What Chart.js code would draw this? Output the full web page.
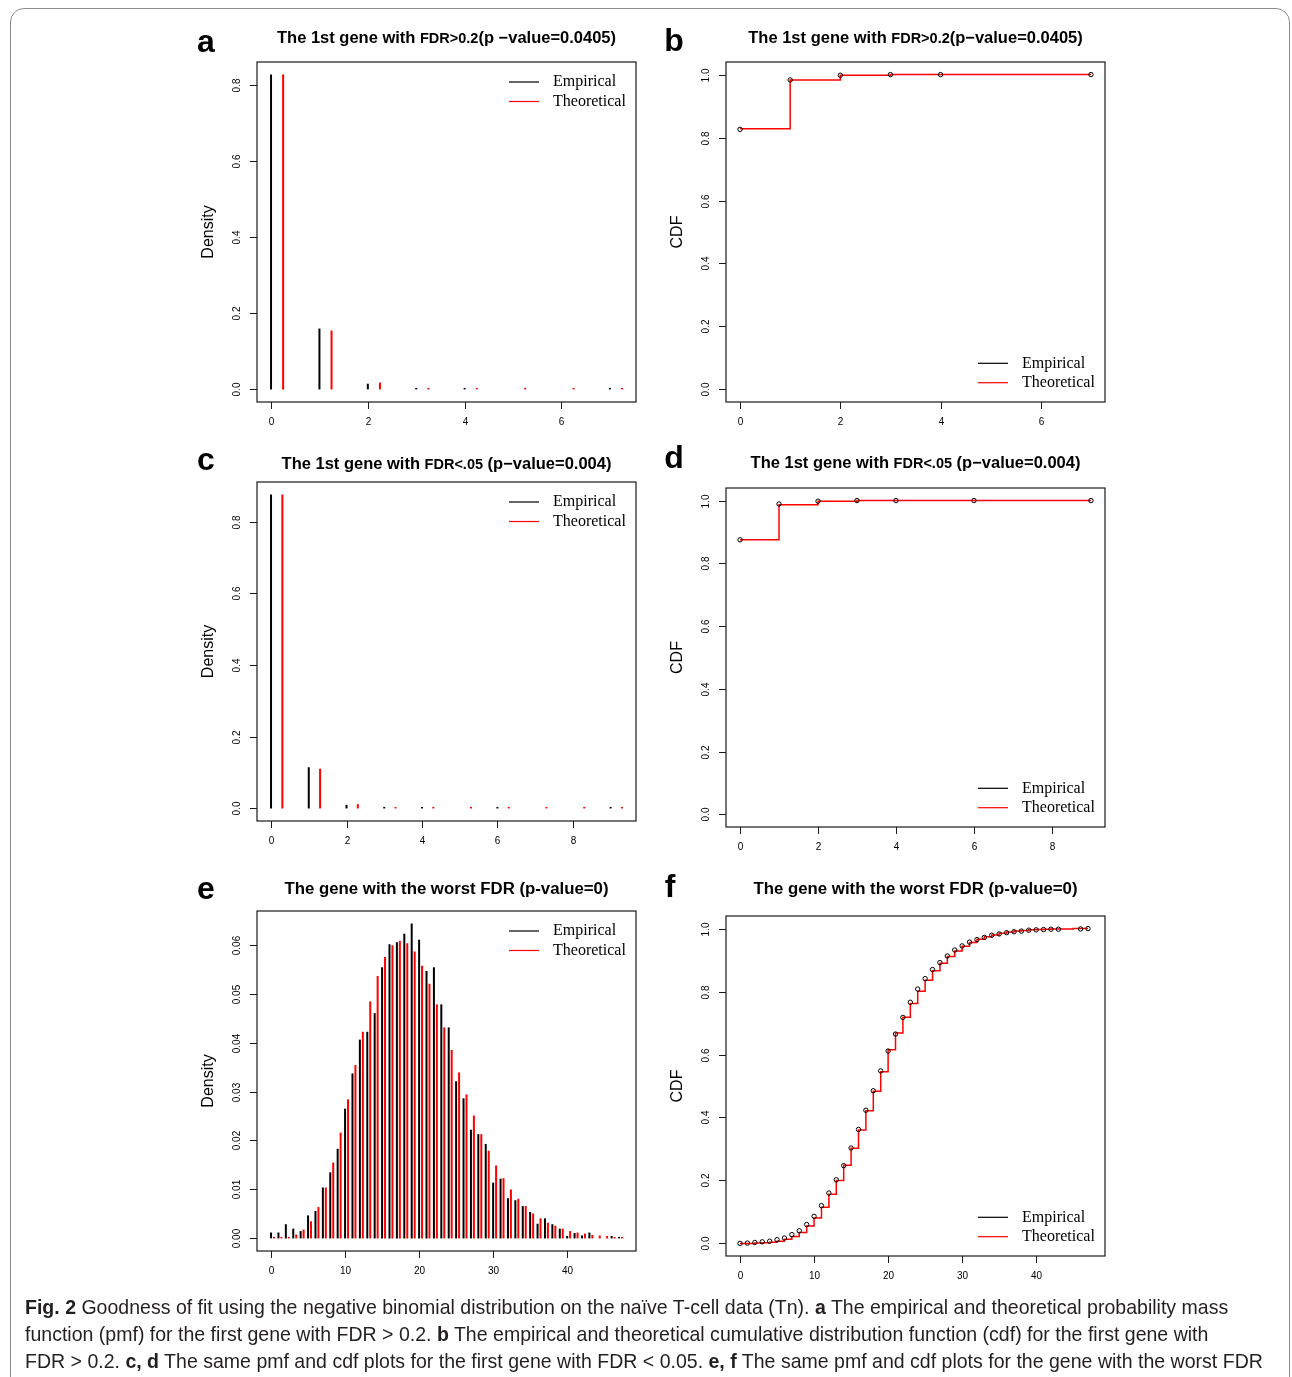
<!DOCTYPE html>
<html>
<head>
<meta charset="utf-8">
<script src="https://cdn.jsdelivr.net/npm/chart.js@4.4.1/dist/chart.umd.min.js"></script>
<style>
  body { margin: 0; background: #fff; width: 1292px; height: 1377px; overflow: hidden; position: relative; font-family: "Liberation Sans", Arial, sans-serif; }
  .frame { position: absolute; left: 10px; top: 8px; width: 1278px; height: 1420px; border: 1px solid #8c8c8c; border-radius: 14px; }
  canvas { position: absolute; }
  .letter { position: absolute; font: bold 32px "Liberation Sans", Arial, sans-serif; transform: translate(-50%, -50%); line-height: 1; }
  .caption { position: absolute; left: 25px; top: 1293px; font-family: "Liberation Sans Narrow", "Liberation Sans", sans-serif; font-size: 21px; line-height: 27px; color: #231f20; white-space: nowrap; }
  .caption div { transform: scaleX(0.93); transform-origin: left center; }
  .caption b { font-weight: bold; }
</style>
</head>
<body>
<div class="frame"></div>

<canvas id="pa" width="460" height="423" style="left:190px;top:17px"></canvas>
<canvas id="pb" width="460" height="423" style="left:659px;top:17px"></canvas>
<canvas id="pc" width="460" height="422" style="left:190px;top:437px"></canvas>
<canvas id="pd" width="460" height="422" style="left:659px;top:443px"></canvas>
<canvas id="pe" width="460" height="423" style="left:190px;top:866px"></canvas>
<canvas id="pf" width="460" height="423" style="left:659px;top:871px"></canvas>

<div class="letter" style="left:206px;top:41px">a</div>
<div class="letter" style="left:674px;top:40px">b</div>
<div class="letter" style="left:206px;top:459px">c</div>
<div class="letter" style="left:674px;top:457px">d</div>
<div class="letter" style="left:206px;top:888px">e</div>
<div class="letter" style="left:670px;top:886px">f</div>

<div class="caption">
  <div><b>Fig. 2</b> Goodness of fit using the negative binomial distribution on the naïve T-cell data (Tn). <b>a</b> The empirical and theoretical probability mass</div>
  <div>function (pmf) for the first gene with FDR &gt; 0.2. <b>b</b> The empirical and theoretical cumulative distribution function (cdf) for the first gene with</div>
  <div>FDR &gt; 0.2. <b>c, d</b> The same pmf and cdf plots for the first gene with FDR &lt; 0.05. <b>e, f</b> The same pmf and cdf plots for the gene with the worst FDR</div>
</div>

<script>
// ---- panel a / b: first gene with FDR > 0.2 ----
const aEmpCounts = [0, 1, 2, 3, 4, 7];
const aEmpirical = [0.828, 0.160, 0.015, 0.002, 0.001, 0.001];
const aTheoCounts = [0, 1, 2, 3, 4, 5, 6, 7];
const aTheoretical = [0.828, 0.155, 0.018, 0.003, 0.001, 0.001, 0.001, 0.001];
const bEmpCdf = [0.826, 0.983, 0.998, 1.0, 1.0, 1.0];
const bTheoCdf = [0.828, 0.983, 0.998, 1.0, 1.0, 1.0, 1.0, 1.0];

// ---- panel c / d: first gene with FDR < .05 ----
const cEmpCounts = [0, 1, 2, 3, 4, 6, 9];
const cEmpirical = [0.876, 0.115, 0.010, 0.001, 0.001, 0.001, 0.001];
const cTheoCounts = [0, 1, 2, 3, 4, 5, 6, 7, 8, 9];
const cTheoretical = [0.876, 0.111, 0.012, 0.002, 0.001, 0.001, 0.001, 0.001, 0.001, 0.001];
const dEmpCdf = [0.875, 0.989, 0.998, 1.0, 1.0, 1.0, 1.0];
const dTheoCdf = [0.875, 0.987, 0.998, 1.0, 1.0, 1.0, 1.0, 1.0, 1.0, 1.0];

// ---- panel e / f: gene with the worst FDR (counts 0..47) ----
const eCounts = Array.from({ length: 48 }, (_, i) => i);
const eEmpirical = [0.0012, 0.0012, 0.0029, 0.0020, 0.0015, 0.0047, 0.0056, 0.0104, 0.0135, 0.0183,
  0.0265, 0.0337, 0.0406, 0.0422, 0.0460, 0.0554, 0.0601, 0.0605, 0.0622, 0.0643,
  0.0610, 0.0546, 0.0554, 0.0478, 0.0431, 0.0321, 0.0286, 0.0222, 0.0213, 0.0193,
  0.0114, 0.0122, 0.0082, 0.0078, 0.0066, 0.0054, 0.0030, 0.0041, 0.0029, 0.0020,
  0.0005, 0.0011, 0.0006, 0.0012, null, null, 0.0005, 0.0003];
const eTheoretical = [0.0001, 0.0002, 0.0003, 0.0008, 0.0018, 0.0035, 0.0064, 0.0104, 0.0155, 0.0216,
  0.0284, 0.0354, 0.0422, 0.0484, 0.0536, 0.0575, 0.0599, 0.0608, 0.0603, 0.0586,
  0.0557, 0.0520, 0.0478, 0.0431, 0.0385, 0.0339, 0.0294, 0.0251, 0.0213, 0.0179,
  0.0149, 0.0123, 0.0100, 0.0081, 0.0066, 0.0051, 0.0041, 0.0032, 0.0026, 0.0020,
  0.0015, 0.0012, 0.0010, 0.0007, 0.0006, 0.0005, 0.0003, 0.0002];
const fEmpCdf = [0.000, 0.001, 0.003, 0.005, 0.007, 0.012, 0.017, 0.028, 0.040, 0.060,
  0.086, 0.120, 0.160, 0.202, 0.247, 0.303, 0.362, 0.423, 0.485, 0.548,
  0.611, 0.665, 0.718, 0.766, 0.808, 0.841, 0.870, 0.892, 0.913, 0.932,
  0.945, 0.957, 0.965, 0.972, 0.979, 0.983, 0.987, 0.990, 0.992, 0.995,
  0.996, 0.997, 0.998, 0.998, null, null, 0.999, 1.000];
const fTheoCdf = [0.000, 0.000, 0.001, 0.002, 0.004, 0.007, 0.013, 0.022, 0.035, 0.055,
  0.081, 0.115, 0.156, 0.200, 0.248, 0.302, 0.360, 0.421, 0.483, 0.545,
  0.615, 0.668, 0.718, 0.762, 0.801, 0.836, 0.866, 0.890, 0.911, 0.929,
  0.944, 0.956, 0.966, 0.974, 0.980, 0.985, 0.989, 0.992, 0.994, 0.996,
  0.997, 0.998, 0.999, 0.999, 0.999, 1.000, 1.000, 1.000];

const BLACK = '#000000';
const RED = '#ff0000';

const pts = (xs, ys, shift = 0) =>
  xs.map((x, i) => ({ x: x + shift, y: ys[i] })).filter(p => p.y != null);

// R-like axes, box, title and legend drawn through the chart scales
const rPlot = {
  id: 'rPlot',
  afterDraw(chart, args, o) {
    const { ctx, chartArea: a, scales: { x, y } } = chart;
    ctx.save();
    ctx.strokeStyle = '#1a1a1a';
    ctx.lineWidth = 1.2;
    ctx.strokeRect(a.left, a.top, a.width, a.height);

    ctx.fillStyle = '#000';
    ctx.lineWidth = 1;
    ctx.font = '10px "Liberation Sans", Arial, sans-serif';
    ctx.textAlign = 'center';
    ctx.textBaseline = 'middle';
    o.xTicks.forEach(v => {
      const px = Math.round(x.getPixelForValue(v)) + 0.5;
      ctx.beginPath(); ctx.moveTo(px, a.bottom); ctx.lineTo(px, a.bottom + 7); ctx.stroke();
      ctx.fillText(String(v), px, a.bottom + 20);
    });
    o.yTicks.forEach(v => {
      const py = Math.round(y.getPixelForValue(v)) + 0.5;
      ctx.beginPath(); ctx.moveTo(a.left, py); ctx.lineTo(a.left - 7, py); ctx.stroke();
      ctx.save();
      ctx.translate(a.left - 20, py);
      ctx.rotate(-Math.PI / 2);
      ctx.fillText(v.toFixed(o.yDigits), 0, 0);
      ctx.restore();
    });

    ctx.save();
    ctx.font = '16px "Liberation Sans", Arial, sans-serif';
    ctx.translate(a.left - 48, (a.top + a.bottom) / 2);
    ctx.rotate(-Math.PI / 2);
    ctx.fillText(o.yTitle, 0, 0);
    ctx.restore();

    // title made of pieces with their own font size
    ctx.textAlign = 'left';
    ctx.textBaseline = 'alphabetic';
    const widths = o.title.map(([t, s]) => {
      ctx.font = `bold ${s}px "Liberation Sans", Arial, sans-serif`;
      return ctx.measureText(t).width;
    });
    let tx = (a.left + a.right) / 2 - widths.reduce((p, c) => p + c, 0) / 2;
    o.title.forEach(([t, s], i) => {
      ctx.font = `bold ${s}px "Liberation Sans", Arial, sans-serif`;
      ctx.fillText(t, tx, o.titleY);
      tx += widths[i];
    });

    // legend
    const rows = o.legendTop ? [a.top + 20, a.top + 39.5] : [a.bottom - 38.7, a.bottom - 19.3];
    ctx.font = '16px "Liberation Serif", "Times New Roman", serif';
    ctx.textBaseline = 'middle';
    ['Empirical', 'Theoretical'].forEach((lab, i) => {
      const ds = chart.data.datasets.find(d => d.label === lab);
      ctx.strokeStyle = ds.legendColor;
      ctx.lineWidth = 1.2;
      ctx.beginPath(); ctx.moveTo(a.right - 127, rows[i]); ctx.lineTo(a.right - 97, rows[i]); ctx.stroke();
      ctx.fillText(lab, a.right - 83, rows[i]);
    });
    ctx.restore();
  }
};

const layout = { padding: { left: 0, top: 45, right: 14, bottom: 8 } };
const xAxis = (min, max) => ({
  type: 'linear', min, max, offset: false,
  grid: { display: false }, border: { display: false }, ticks: { display: false },
  afterFit: s => { s.height = 30; }
});
const yAxis = (min, max) => ({
  type: 'linear', min, max,
  grid: { display: false }, border: { display: false }, ticks: { display: false },
  afterFit: s => { s.width = 67; }
});

function pmfChart(id, empX, empY, theoX, theoY, shift, xr, yr, plot) {
  return new Chart(document.getElementById(id), {
    type: 'bar',
    data: {
      datasets: [
        { label: 'Empirical', data: pts(empX, empY), backgroundColor: BLACK, legendColor: BLACK,
          grouped: false, maxBarThickness: 2, minBarLength: 1.5 },
        { label: 'Theoretical', data: pts(theoX, theoY, shift), backgroundColor: RED, legendColor: RED,
          grouped: false, maxBarThickness: 2, minBarLength: 1.5 }
      ]
    },
    options: {
      responsive: false, animation: false, layout,
      scales: { x: xAxis(xr[0], xr[1]), y: yAxis(yr[0], yr[1]) },
      plugins: { legend: { display: false }, tooltip: { enabled: false }, rPlot: plot }
    },
    plugins: [rPlot]
  });
}

function cdfChart(id, empX, empY, theoX, theoY, xr, plot) {
  return new Chart(document.getElementById(id), {
    type: 'scatter',
    data: {
      datasets: [
        { label: 'Empirical', data: pts(empX, empY), showLine: false, legendColor: BLACK,
          pointRadius: 2.2, pointBorderWidth: 1, pointBorderColor: BLACK, pointBackgroundColor: 'rgba(0,0,0,0)' },
        { label: 'Theoretical', data: pts(theoX, theoY), showLine: true, stepped: 'before', legendColor: RED,
          borderColor: RED, borderWidth: 1.5, pointRadius: 0 }
      ]
    },
    options: {
      responsive: false, animation: false, layout,
      scales: { x: xAxis(xr[0], xr[1]), y: yAxis(-0.04, 1.04) },
      plugins: { legend: { display: false }, tooltip: { enabled: false }, rPlot: plot }
    },
    plugins: [rPlot]
  });
}

const cdfY = [0, 0.2, 0.4, 0.6, 0.8, 1.0];

pmfChart('pa', aEmpCounts, aEmpirical, aTheoCounts, aTheoretical, 0.25, [-0.29, 7.54], [-0.0331, 0.8611], {
  xTicks: [0, 2, 4, 6], yTicks: [0, 0.2, 0.4, 0.6, 0.8], yDigits: 1, yTitle: 'Density', legendTop: true,
  titleY: 26, title: [['The 1st gene with ', 16.5], ['FDR>0.2', 14.5], ['(p \u2212value=0.0405)', 16.5]]
});
cdfChart('pb', aEmpCounts, bEmpCdf, aTheoCounts, bTheoCdf, [-0.28, 7.28], {
  xTicks: [0, 2, 4, 6], yTicks: cdfY, yDigits: 1, yTitle: 'CDF', legendTop: false,
  titleY: 26, title: [['The 1st gene with ', 16.5], ['FDR>0.2', 14.5], ['(p\u2212value=0.0405)', 16.5]]
});
pmfChart('pc', cEmpCounts, cEmpirical, cTheoCounts, cTheoretical, 0.3, [-0.372, 9.672], [-0.035, 0.911], {
  xTicks: [0, 2, 4, 6, 8], yTicks: [0, 0.2, 0.4, 0.6, 0.8], yDigits: 1, yTitle: 'Density', legendTop: true,
  titleY: 32, title: [['The 1st gene with ', 16.5], ['FDR<.05', 14.5], [' (p\u2212value=0.004)', 16.5]]
});
cdfChart('pd', cEmpCounts, dEmpCdf, cTheoCounts, dTheoCdf, [-0.36, 9.36], {
  xTicks: [0, 2, 4, 6, 8], yTicks: cdfY, yDigits: 1, yTitle: 'CDF', legendTop: false,
  titleY: 25, title: [['The 1st gene with ', 16.5], ['FDR<.05', 14.5], [' (p\u2212value=0.004)', 16.5]]
});
pmfChart('pe', eCounts, eEmpirical, eCounts, eTheoretical, 0.4, [-1.896, 49.296], [-0.00257, 0.06687], {
  xTicks: [0, 10, 20, 30, 40], yTicks: [0, 0.01, 0.02, 0.03, 0.04, 0.05, 0.06], yDigits: 2, yTitle: 'Density', legendTop: true,
  titleY: 28, title: [['The gene with the worst FDR (p-value=0)', 16.8]]
});
cdfChart('pf', eCounts, fEmpCdf, eCounts, fTheoCdf, [-1.896, 49.296], {
  xTicks: [0, 10, 20, 30, 40], yTicks: cdfY, yDigits: 1, yTitle: 'CDF', legendTop: false,
  titleY: 23, title: [['The gene with the worst FDR (p-value=0)', 16.8]]
});
</script>
</body>
</html>
